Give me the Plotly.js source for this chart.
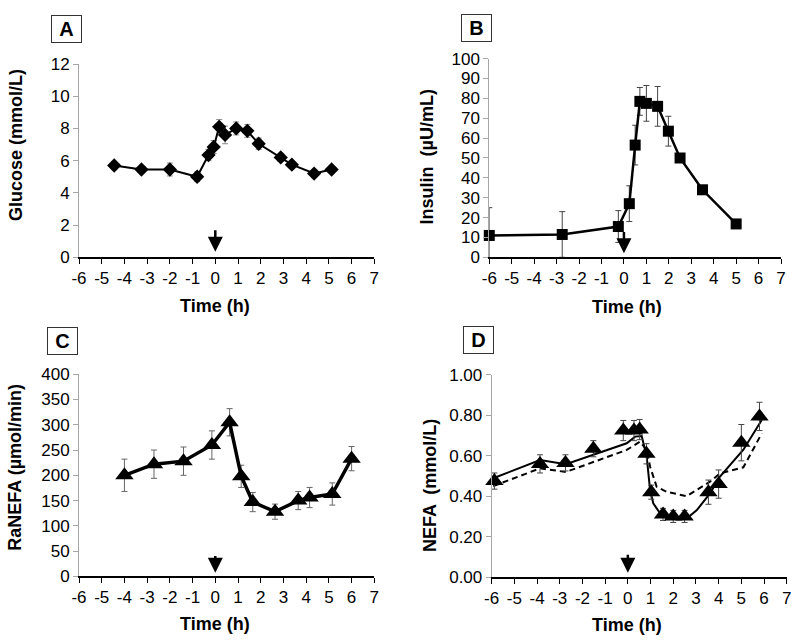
<!DOCTYPE html>
<html>
<head>
<meta charset="utf-8">
<script src="https://cdn.plot.ly/plotly-3.0.1.min.js"></script>
<style>html,body{margin:0;padding:0;background:#fff;}#chart{width:800px;height:642px;}</style>
</head>
<body>
<div id="chart"></div>
<script>
// ---- Panel A: Glucose ----
var glucTime = [-4.45, -3.25, -2.0, -0.8, -0.3, -0.07, 0.17, 0.43, 0.92, 1.41, 1.91, 2.88, 3.37, 4.35, 5.12];
var glucose  = [5.7, 5.45, 5.45, 5.0, 6.35, 6.85, 8.1, 7.6, 8.0, 7.85, 7.05, 6.2, 5.75, 5.2, 5.45];
var glucSE   = [0.25, 0.15, 0.4, 0.3, 0.35, 0.4, 0.45, 0.55, 0.4, 0.4, 0.35, 0.25, 0.2, 0.2, 0.15];

// ---- Panel B: Insulin ----
var insTime = [-6, -2.75, -0.25, 0.24, 0.5, 0.71, 1.0, 1.5, 1.98, 2.5, 3.5, 5.0];
var insulin = [11, 11.5, 15.5, 27, 56.5, 78.5, 77.5, 76, 63.5, 50, 34, 16.8];
var insSE   = [14, 11.5, 8, 9, 10, 7, 9, 10, 7.5, 1.5, 2, 1.5];

// ---- Panel C: RaNEFA ----
var raTime = [-4, -2.7, -1.4, -0.15, 0.63, 1.14, 1.65, 2.63, 3.65, 4.15, 5.15, 6.0];
var raNefa = [200, 222, 228, 260, 305, 198, 147, 128, 150, 156, 163, 233];
var raSE   = [32, 28, 28, 28, 27, 22, 19, 15, 18, 20, 22, 24];

// ---- Panel D: NEFA ----
var nefaTime = [-5.88, -3.87, -2.75, -1.52, -0.2, 0.27, 0.52, 0.82, 1.03, 1.55, 2.0, 2.5, 3.55, 4.0, 5.0, 5.8];
var nefa     = [0.475, 0.56, 0.565, 0.635, 0.725, 0.725, 0.73, 0.61, 0.42, 0.31, 0.30, 0.30, 0.42, 0.46, 0.665, 0.795];
var nefaSE   = [0.04, 0.045, 0.04, 0.04, 0.05, 0.05, 0.05, 0.05, 0.035, 0.03, 0.03, 0.03, 0.06, 0.07, 0.09, 0.07];
var fitSolidTime = [-5.93, -3.87, -2.73, -0.05, 0.32, 0.61, 0.83, 0.98, 1.12, 1.42, 1.71, 2.59, 3.03, 3.62, 4.06, 5.09, 5.9];
var fitSolid     = [0.489, 0.579, 0.558, 0.662, 0.695, 0.698, 0.596, 0.43, 0.365, 0.315, 0.29, 0.29, 0.33, 0.414, 0.497, 0.63, 0.777];
var fitDashTime  = [-5.93, -3.87, -2.73, -0.05, 0.54, 0.83, 0.98, 1.27, 1.71, 2.59, 3.62, 4.06, 5.09, 5.9];
var fitDash      = [0.45, 0.538, 0.52, 0.629, 0.67, 0.629, 0.546, 0.447, 0.422, 0.40, 0.472, 0.513, 0.543, 0.711];

// ---- labels ----
var panelLabels = ['A', 'B', 'C', 'D'];
var yTitles = ['Glucose (mmol/L)', 'Insulin  (\u00b5U/mL)', 'RaNEFA (\u00b5mol/min)', 'NEFA  (mmol/L)'];
var xTitle = 'Time (h)';
var timeTicks = [-6, -5, -4, -3, -2, -1, 0, 1, 2, 3, 4, 5, 6, 7];
var arrowTime = 0;
var arrowTail = [1.75, 13.2, 42, 0.115];
var arrowTip  = [0.35, 2.0, 7, 0.021];

var FONT = 'Liberation Sans, Arial, sans-serif';

function errBar(arr, col) {
  return {type: 'data', array: arr, visible: true, color: col, thickness: 1, width: 3};
}

var traces = [
  {x: glucTime, y: glucose, xaxis: 'x', yaxis: 'y', mode: 'lines+markers', cliponaxis: false,
   line: {color: '#000', width: 2}, marker: {symbol: 'diamond', size: 11, color: '#000'},
   error_y: errBar(glucSE, '#8a8a8a')},
  {x: insTime, y: insulin, xaxis: 'x2', yaxis: 'y2', mode: 'lines+markers', cliponaxis: false,
   line: {color: '#000', width: 2.5}, marker: {symbol: 'square', size: 11, color: '#000'},
   error_y: errBar(insSE, '#444')},
  {x: raTime, y: raNefa, xaxis: 'x3', yaxis: 'y3', mode: 'lines+markers', cliponaxis: false,
   line: {color: '#000', width: 3.5}, marker: {symbol: 'triangle-up', size: 16, color: '#000'},
   error_y: errBar(raSE, '#666')},
  {x: fitSolidTime, y: fitSolid, xaxis: 'x4', yaxis: 'y4', mode: 'lines', cliponaxis: false,
   line: {color: '#000', width: 2}},
  {x: fitDashTime, y: fitDash, xaxis: 'x4', yaxis: 'y4', mode: 'lines', cliponaxis: false,
   line: {color: '#000', width: 2, dash: '6px,4px'}},
  {x: nefaTime, y: nefa, xaxis: 'x4', yaxis: 'y4', mode: 'markers', cliponaxis: false,
   marker: {symbol: 'triangle-up', size: 16, color: '#000'},
   error_y: errBar(nefaSE, '#444')}
];

function xAx(dom, anc) {
  return {domain: dom, anchor: anc, range: [-6, 7], tickmode: 'array', tickvals: timeTicks, ticktext: timeTicks.map(String),
    showline: true, linecolor: '#000', linewidth: 1.5, ticks: 'outside', ticklen: 5, tickcolor: '#000', tickwidth: 1,
    showgrid: false, zeroline: false, tickfont: {family: FONT, size: 17, color: '#000'}, fixedrange: true};
}
function yAx(dom, anc, rng, dt, fmt) {
  return {domain: dom, anchor: anc, range: rng, dtick: dt, tick0: 0, tickformat: fmt || '',
    showline: true, linecolor: '#a6a6a6', linewidth: 1, ticks: 'outside', ticklen: 5, tickcolor: '#a6a6a6',
    showgrid: false, zeroline: false, tickfont: {family: FONT, size: 17, color: '#000'}, fixedrange: true};
}

var annotations = [];
// panel letter boxes
var boxPos = [[0.0825, 0.9548], [0.595, 0.9564], [0.0775, 0.4693], [0.5975, 0.4704]];
panelLabels.forEach(function (t, i) {
  annotations.push({text: '<b>' + t + '</b>', xref: 'paper', yref: 'paper', x: boxPos[i][0], y: boxPos[i][1],
    xanchor: 'center', yanchor: 'middle', showarrow: false, width: 27, height: 24, borderpad: 1,
    bordercolor: '#333', borderwidth: 1, font: {family: FONT, size: 20, color: '#000'}});
});
// y titles
var yTitlePos = [[0.02, 0.7741], [0.5334, 0.7559], [0.01875, 0.2715], [0.5375, 0.2430]];
yTitles.forEach(function (t, i) {
  annotations.push({text: '<b>' + t + '</b>', xref: 'paper', yref: 'paper', x: yTitlePos[i][0], y: yTitlePos[i][1],
    xanchor: 'center', yanchor: 'middle', showarrow: false, textangle: -90,
    font: {family: FONT, size: 18, color: '#000'}});
});
// x titles
var xTitlePos = [[0.2688, 0.5238], [0.7834, 0.5223], [0.2688, 0.0276], [0.7834, 0.0265]];
xTitlePos.forEach(function (p) {
  annotations.push({text: '<b>' + xTitle + '</b>', xref: 'paper', yref: 'paper', x: p[0], y: p[1],
    xanchor: 'center', yanchor: 'middle', showarrow: false, font: {family: FONT, size: 18, color: '#000'}});
});
// arrows at time 0
var axNames = [['x', 'y'], ['x2', 'y2'], ['x3', 'y3'], ['x4', 'y4']];
axNames.forEach(function (a, i) {
  annotations.push({text: ' ', xref: a[0], yref: a[1], x: arrowTime, y: arrowTip[i],
    axref: a[0], ayref: a[1], ax: arrowTime, ay: arrowTail[i], showarrow: true, standoff: 0, startstandoff: 0,
    borderpad: 0, font: {size: 1},
    arrowhead: 2, arrowsize: 1.2, arrowwidth: 2.5, arrowcolor: '#000'});
});

var layout = {
  width: 800, height: 642, margin: {l: 0, r: 0, t: 0, b: 0},
  paper_bgcolor: '#fff', plot_bgcolor: '#fff', showlegend: false,
  font: {family: FONT, color: '#000'},
  xaxis: xAx([0.09875, 0.4679], 'y'),  yaxis: yAx([0.5992, 0.9003], 'x', [0, 12], 2),
  xaxis2: xAx([0.6116, 0.9763], 'y2'), yaxis2: yAx([0.5992, 0.9086], 'x2', [0, 100], 10),
  xaxis3: xAx([0.09875, 0.4679], 'y3'), yaxis3: yAx([0.1023, 0.4170], 'x3', [0, 400], 50),
  xaxis4: xAx([0.6146, 0.9834], 'y4'), yaxis4: yAx([0.1012, 0.4159], 'x4', [0, 1], 0.2, '.2f'),
  annotations: annotations
};

Plotly.newPlot('chart', traces, layout, {displayModeBar: false, staticPlot: true});
</script>
</body>
</html>
